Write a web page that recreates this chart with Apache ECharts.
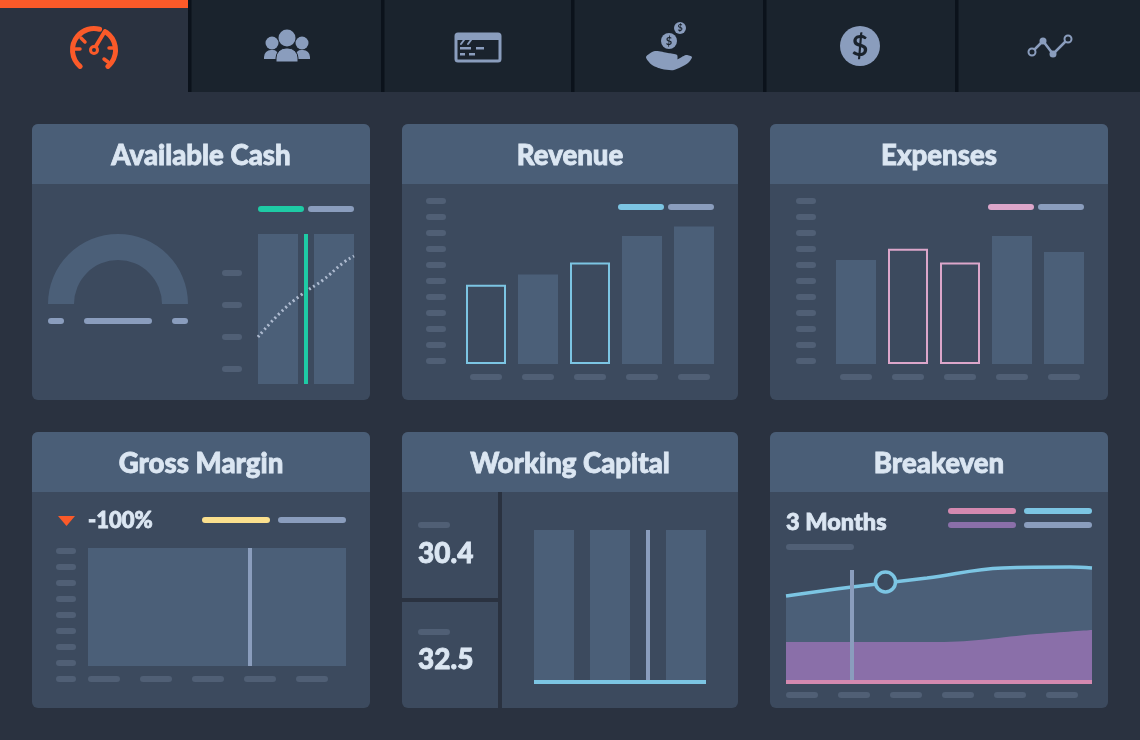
<!DOCTYPE html>
<html>
<head>
<meta charset="utf-8">
<title>Dashboard</title>
<script src="https://cdn.jsdelivr.net/npm/echarts@6/dist/echarts.min.js"></script>
<style>
html,body{margin:0;padding:0;background:#2a3240;}
#main{width:1140px;height:740px;}
</style>
</head>
<body>
<div id="main"></div>
<script>
// chart values
var cashBars = [[20, 150], [76, 150]];
var cashMarker = [[48, 0], [48, 150]];
var cashTrend = [[0, 47], [22, 71], [43, 89], [65, 104], [85, 121], [96, 128]];
var cashTicks = [15, 47, 79, 111];
var gaugeValue = [100];

var barCats = ['1', '2', '3', '4', '5'];
var revenue = [49.5, 56, 63.5, 80, 86];
var revenueOutlined = [0, 2];
var expenses = [65, 72, 63.5, 80, 70];
var expensesOutlined = [1, 2];

var marginBlock = [[0, 118], [258, 118]];
var marginMarker = [[162, 0], [162, 118]];

var capitalBars = [[20, 152], [76, 152], [152, 152]];
var capitalMarker = [[114, 0], [114, 152]];

var beBlue = [[0, 86], [66, 95], [141, 104], [217, 114], [284, 115], [306, 114]];
var bePurple = [[0, 40], [151, 40], [251, 48], [306, 52]];
var beMarker = [[66, 2], [66, 112]];
var bePoint = [[99.5, 100]];

var titles = ['Available Cash', 'Revenue', 'Expenses', 'Gross Margin', 'Working Capital', 'Breakeven'];

var PAGE = '#2a3240', TABBAR = '#1a232d', TABLINE = '#0b121b', ORANGE = '#fb5a29';
var BODY = '#3c4a5e', HEAD = '#4a5e77', BAR = '#4b5f78', PILL = '#505f75', GREY = '#8a9dbd';
var TEAL = '#1ecba5', BLUE = '#7cc5e3', PINK = '#dca6ca', ROSE = '#d489b0', PURPLE = '#8a6fa9', YELLOW = '#fbe08e', TEXT = '#dbe6f2';
var FONT = 'Lato, "Open Sans", sans-serif';

var chart = echarts.init(document.getElementById('main'));

function pill(x, y, w, h, color) {
    return {type: 'rect', shape: {x: x, y: y, width: w, height: h, r: h / 2}, style: {fill: color || PILL}};
}
function box(x, y, w, h, color, r) {
    return {type: 'rect', shape: {x: x, y: y, width: w, height: h, r: r || 0}, style: {fill: color}};
}
function label(str, x, y, size, align) {
    return {type: 'text', style: {text: str, x: x, y: y + 1, fill: TEXT, stroke: TEXT, lineWidth: 0.8, textAlign: align || 'left', textVerticalAlign: 'middle', font: '900 ' + size + 'px ' + FONT}};
}
function circle(cx, cy, r, fill, stroke, lw) {
    return {type: 'circle', shape: {cx: cx, cy: cy, r: r}, style: {fill: fill, stroke: stroke, lineWidth: lw || 0}};
}
function stroke(x1, y1, x2, y2, color, lw) {
    return {type: 'line', shape: {x1: x1, y1: y1, x2: x2, y2: y2}, style: {stroke: color, lineWidth: lw, lineCap: 'round'}};
}
function arc(cx, cy, r, a0, a1, color, lw) {
    return {type: 'arc', shape: {cx: cx, cy: cy, r: r, startAngle: a0 * Math.PI / 180, endAngle: a1 * Math.PI / 180, clockwise: true},
        style: {fill: 'none', stroke: color, lineWidth: lw, lineCap: 'round'}};
}

var els = [];

// tab bar
els.push(box(0, 0, 1140, 92, TABBAR), box(0, 0, 188, 92, PAGE), box(0, 0, 188, 8, ORANGE));
[188, 381, 571, 763, 955].forEach(function (x) { els.push(box(x, 0, 3.5, 92, TABLINE)); });

// gauge icon
els.push(arc(94, 50, 21.5, 130, 285, ORANGE, 5), arc(94, 50, 21.5, 305, 410, ORANGE, 5));
els.push(stroke(74, 49, 80, 49, ORANGE, 3.5), stroke(81, 38, 85, 42, ORANGE, 3.5), stroke(109, 48, 114, 48, ORANGE, 3.5), stroke(104, 59, 108, 62, ORANGE, 3.5));
els.push(stroke(96, 46, 105, 31, ORANGE, 4), circle(94, 50, 3.5, 'none', ORANGE, 3));

// people icon
els.push(circle(272, 43, 6.5, GREY), circle(302, 43, 6.5, GREY), circle(287, 38, 8.5, GREY));
els.push({type: 'rect', shape: {x: 264, y: 50, width: 14, height: 9, r: [7, 5, 0, 0]}, style: {fill: GREY}});
els.push({type: 'rect', shape: {x: 296, y: 50, width: 14, height: 9, r: [5, 7, 0, 0]}, style: {fill: GREY}});
els.push({type: 'rect', shape: {x: 276, y: 48, width: 22, height: 14, r: [10, 10, 0, 0]}, style: {fill: GREY, stroke: TABBAR, lineWidth: 1}});

// card icon
els.push({type: 'rect', shape: {x: 456, y: 34, width: 44, height: 27, r: 2}, style: {fill: 'none', stroke: GREY, lineWidth: 3}});
els.push(box(457, 35, 42, 5, GREY));
els.push(stroke(461, 44, 464, 40, GREY, 2), stroke(468, 44, 471, 40, GREY, 2));
els.push(box(460, 47, 11, 2.5, GREY), box(476, 47, 8, 2.5, GREY), box(460, 53, 5, 2.5, GREY), box(469, 53, 6, 2.5, GREY));

// coin hand icon
els.push(circle(669, 41, 8, GREY), circle(680, 28, 6, GREY));
els.push({type: 'text', style: {text: '$', x: 669, y: 41, fill: TABBAR, textAlign: 'center', textVerticalAlign: 'middle', font: '700 11px ' + FONT}});
els.push({type: 'text', style: {text: '$', x: 680, y: 28, fill: TABBAR, textAlign: 'center', textVerticalAlign: 'middle', font: '700 9px ' + FONT}});
els.push({type: 'polygon', shape: {smooth: 0.25, points: [[646, 57], [655, 51], [668, 53], [677, 55], [677, 60], [668, 60], [676, 60], [686, 55], [692, 57], [688, 63], [674, 70], [662, 69], [652, 65]]},
    style: {fill: GREY}});

// dollar icon
els.push(circle(860, 46, 20, GREY));
els.push({type: 'text', style: {text: '$', x: 860, y: 47, fill: TABBAR, textAlign: 'center', textVerticalAlign: 'middle', font: '700 29px ' + FONT}});

// line icon
els.push({type: 'polyline', shape: {points: [[1032, 52], [1043, 41], [1053, 54], [1068, 39]]}, style: {fill: 'none', stroke: GREY, lineWidth: 2.5}});
els.push(circle(1032, 52, 3.5, TABBAR, GREY, 2), circle(1043, 41, 3.5, GREY), circle(1053, 54, 3.5, GREY), circle(1068, 39, 3.5, TABBAR, GREY, 2));

// cards
var cards = [[32, 124, 338], [402, 124, 336], [770, 124, 338], [32, 432, 338], [402, 432, 336], [770, 432, 338]];
cards.forEach(function (c, i) {
    els.push(box(c[0], c[1], c[2], 276, BODY, 6));
    els.push(box(c[0], c[1], c[2], 60, HEAD, [6, 6, 0, 0]));
    els.push(label(titles[i], c[0] + c[2] / 2, c[1] + 31, 27.6, 'center'));
});

// Available Cash extras
els.push(pill(48, 318, 16, 6, GREY), pill(84, 318, 68, 6, GREY), pill(172, 318, 16, 6, GREY));
els.push(pill(258, 206, 46, 6, TEAL), pill(308, 206, 46, 6, GREY));
// legends
els.push(pill(618, 204, 46, 6, BLUE), pill(668, 204, 46, 6, GREY));
els.push(pill(988, 204, 46, 6, PINK), pill(1038, 204, 46, 6, GREY));

// Gross Margin extras
els.push({type: 'polygon', shape: {points: [[58, 516], [75, 516], [66.5, 526]]}, style: {fill: ORANGE}});
els.push(label('-100%', 88, 520, 22));
els.push(pill(202, 517, 68, 6, YELLOW), pill(278, 517, 68, 6, GREY), pill(56, 676, 20, 6));

// Working Capital extras
els.push(box(498, 492, 4, 216, PAGE), box(402, 598, 96, 4, PAGE));
els.push(pill(418, 522, 32, 6), pill(418, 629, 32, 6));
els.push(label('30.4', 418, 553, 28), label('32.5', 418, 659, 28));

// Breakeven extras
els.push(label('3 Months', 786, 521, 23.5));
els.push(pill(786, 544, 68, 6));
els.push(pill(948, 508, 68, 6, ROSE), pill(1024, 508, 68, 6, BLUE), pill(948, 522, 68, 6, PURPLE), pill(1024, 522, 68, 6, GREY));

// helpers for pill-shaped axis labels
function pillLabel(w, extra) {
    var o = {
        show: true,
        formatter: function () { return '{p| }'; },
        rich: {p: {width: w, height: 6, lineHeight: 6, fontSize: 1, backgroundColor: PILL, borderRadius: 3}}
    };
    for (var k in extra) { o[k] = extra[k]; }
    return o;
}
var noLine = {show: false};

function hiddenX(min, max, idx) {
    return {type: 'value', gridIndex: idx, min: min, max: max, axisLine: noLine, axisTick: noLine, axisLabel: noLine, splitLine: noLine};
}
function barY(idx) {
    return {type: 'value', gridIndex: idx, min: 0, max: 100, interval: 10, axisLine: noLine, axisTick: noLine, splitLine: noLine,
        axisLabel: pillLabel(20, {margin: 14, verticalAlign: 'bottom'})};
}
function barX(idx) {
    return {type: 'category', gridIndex: idx, data: barCats, axisLine: noLine, axisTick: noLine, splitLine: noLine,
        axisLabel: pillLabel(32, {interval: 0, margin: 10})};
}
function outlinedData(values, outlined, color) {
    return values.map(function (v, i) {
        if (outlined.indexOf(i) >= 0) {
            return {value: v, itemStyle: {color: BODY, borderColor: color, borderWidth: 2}};
        }
        return v;
    });
}

var option = {
    backgroundColor: PAGE,
    animation: false,
    textStyle: {fontFamily: FONT},
    graphic: {z: 0, elements: els},
    grid: [
        {left: 258, top: 234, width: 96, height: 150},
        {left: 460, top: 204, width: 260, height: 160},
        {left: 830, top: 204, width: 260, height: 160},
        {left: 88, top: 548, width: 258, height: 118},
        {left: 534, top: 530, width: 172, height: 152},
        {left: 786, top: 560, width: 306, height: 122}
    ],
    xAxis: [
        hiddenX(0, 96, 0),
        barX(1),
        barX(2),
        {type: 'value', gridIndex: 3, min: 0, max: 258, interval: 52, axisLine: noLine, axisTick: noLine, splitLine: noLine,
            axisLabel: pillLabel(32, {margin: 10, align: 'left', showMaxLabel: false})},
        {type: 'value', gridIndex: 4, min: 0, max: 172, z: 10, axisTick: noLine, splitLine: noLine, axisLabel: noLine,
            axisLine: {show: true, lineStyle: {color: BLUE, width: 4, cap: 'butt'}}},
        {type: 'value', gridIndex: 5, min: 0, max: 306, interval: 52, z: 10, axisTick: noLine, splitLine: noLine,
            axisLine: {show: true, lineStyle: {color: ROSE, width: 4, cap: 'butt'}},
            axisLabel: pillLabel(32, {margin: 10, align: 'left', showMaxLabel: false})}
    ],
    yAxis: [
        {type: 'value', gridIndex: 0, min: 0, max: 150, axisLine: noLine, axisTick: noLine, splitLine: noLine,
            axisLabel: pillLabel(20, {margin: 16, customValues: cashTicks})},
        barY(1),
        barY(2),
        {type: 'value', gridIndex: 3, min: 0, max: 118, interval: 16, axisLine: noLine, axisTick: noLine, splitLine: noLine,
            axisLabel: pillLabel(20, {margin: 12, verticalAlign: 'bottom', showMaxLabel: false})},
        {type: 'value', gridIndex: 4, min: 0, max: 152, show: false, splitLine: noLine},
        {type: 'value', gridIndex: 5, min: 0, max: 122, show: false, splitLine: noLine}
    ],
    series: [
        {type: 'gauge', center: [118, 304], radius: 70, startAngle: 180, endAngle: 0, min: 0, max: 100,
            axisLine: {lineStyle: {width: 26, color: [[1, BAR]]}}, pointer: noLine, progress: noLine, axisTick: noLine,
            splitLine: noLine, axisLabel: noLine, title: noLine, detail: noLine, data: gaugeValue},

        {type: 'bar', xAxisIndex: 0, yAxisIndex: 0, barWidth: 40, data: cashBars, itemStyle: {color: BAR}},
        {type: 'line', xAxisIndex: 0, yAxisIndex: 0, data: cashTrend, showSymbol: false, smooth: true, z: 5,
            lineStyle: {color: '#aebbd0', width: 3, type: [2, 3]}},
        {type: 'line', xAxisIndex: 0, yAxisIndex: 0, data: cashMarker, showSymbol: false, z: 6, lineStyle: {color: TEAL, width: 4}},

        {type: 'bar', xAxisIndex: 1, yAxisIndex: 1, barWidth: 40, itemStyle: {color: BAR}, data: outlinedData(revenue, revenueOutlined, BLUE)},
        {type: 'bar', xAxisIndex: 2, yAxisIndex: 2, barWidth: 40, itemStyle: {color: BAR}, data: outlinedData(expenses, expensesOutlined, PINK)},

        {type: 'line', xAxisIndex: 3, yAxisIndex: 3, data: marginBlock, showSymbol: false, lineStyle: {width: 0}, areaStyle: {color: BAR, opacity: 1}},
        {type: 'line', xAxisIndex: 3, yAxisIndex: 3, data: marginMarker, showSymbol: false, z: 5, lineStyle: {color: GREY, width: 4}},

        {type: 'bar', xAxisIndex: 4, yAxisIndex: 4, barWidth: 40, data: capitalBars, itemStyle: {color: BAR}},
        {type: 'line', xAxisIndex: 4, yAxisIndex: 4, data: capitalMarker, showSymbol: false, lineStyle: {color: GREY, width: 4}},

        {type: 'line', xAxisIndex: 5, yAxisIndex: 5, data: beBlue, smooth: 0.4, showSymbol: false, z: 3,
            lineStyle: {color: BLUE, width: 3.5}, areaStyle: {color: BAR, opacity: 1}},
        {type: 'line', xAxisIndex: 5, yAxisIndex: 5, data: bePurple, smooth: 0.4, showSymbol: false, z: 4,
            lineStyle: {width: 0}, areaStyle: {color: PURPLE, opacity: 1}},
        {type: 'line', xAxisIndex: 5, yAxisIndex: 5, data: beMarker, showSymbol: false, z: 5, lineStyle: {color: GREY, width: 4}},
        {type: 'scatter', xAxisIndex: 5, yAxisIndex: 5, data: bePoint, symbolSize: 20, z: 6,
            itemStyle: {color: BODY, borderColor: BLUE, borderWidth: 3.5, opacity: 1}}
    ]
};

chart.setOption(option);
</script>
</body>
</html>
